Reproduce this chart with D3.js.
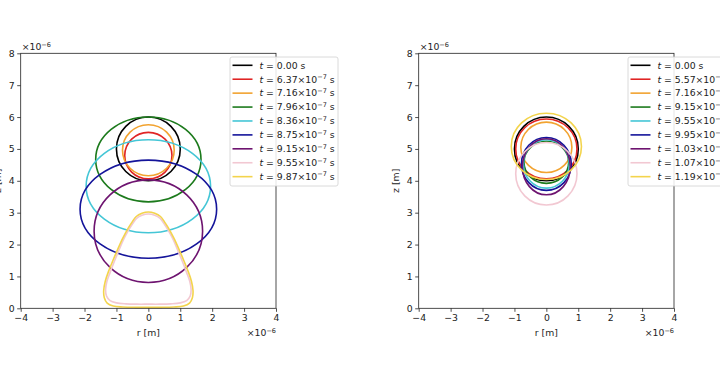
<!DOCTYPE html>
<html><head><meta charset="utf-8">
<script src="https://cdn.jsdelivr.net/npm/d3@7"></script>
<style>
body{margin:0;background:#fff;overflow:hidden;}
svg{display:block;}
text{font-family:"DejaVu Sans",sans-serif;fill:#222;}
</style>
</head><body>
<svg id="c" width="720" height="382"></svg>
<script>
// ---------- data ----------
const seriesColors = ["#000000","#e02424","#f2a330","#1c7a1c","#44c6d6","#14149a","#6e1470","#f2c8d2","#f3d44c"];
const xTicks = [-4,-3,-2,-1,0,1,2,3,4];
const yTicks = [0,1,2,3,4,5,6,7,8];

// left panel legend
const leftTimeMantissa = ["0.00","6.37","7.16","7.96","8.36","8.75","9.15","9.55","9.87"];
const leftTimeExponent = [null,-7,-7,-7,-7,-7,-7,-7,-7];
// left panel: elliptic bubble contours (series 0..6), units of 1e-6 m
const leftCenterZ = [5.00,4.79,4.96,4.67,3.83,3.11,2.42];
const leftRadiusR = [1.00,0.74,0.81,1.65,1.95,2.14,1.70];
const leftRadiusZ = [1.00,0.73,0.80,1.33,1.46,1.54,1.61];
// left panel: bell-shaped contours (series 7 and 8), half profile r>=0 from top to bottom
const pinkProfileR   = [0,0.20,0.37,0.49,0.62,0.78,0.93,1.07,1.20,1.30,1.34,1.31,1.20,1.00,0.70,0.35,0];
const pinkProfileZ   = [2.96,2.92,2.82,2.66,2.45,2.15,1.80,1.46,1.12,0.84,0.58,0.38,0.24,0.17,0.14,0.13,0.13];
const yellowProfileR = [0,0.20,0.38,0.50,0.64,0.80,0.96,1.11,1.25,1.35,1.40,1.38,1.29,1.10,0.80,0.40,0];
const yellowProfileZ = [3.02,2.98,2.88,2.72,2.50,2.20,1.85,1.50,1.15,0.85,0.55,0.33,0.16,0.07,0.04,0.03,0.03];

// right panel legend
const rightTimeMantissa = ["0.00","5.57","7.16","9.15","9.55","9.95","1.03","1.07","1.19"];
const rightTimeExponent = [null,-7,-7,-7,-7,-7,-6,-6,-6];
// right panel contours (all near-elliptic)
const rightCenterZ = [5.00,5.00,5.05,4.58,4.53,4.53,4.44,4.22,5.08];
const rightRadiusR = [1.00,0.96,0.80,0.70,0.72,0.78,0.75,0.96,1.10];
const rightRadiusZ = [1.00,0.94,0.79,0.66,0.76,0.83,0.88,0.98,1.04];

// ---------- drawing ----------
const svg = d3.select("#c");
const FS = 9.3;

function panel(left, opts){
  const top = 53.3, bottom = 308.3, right = left + 255.3;
  const x = d3.scaleLinear().domain([-4,4]).range([left,right]);
  const y = d3.scaleLinear().domain([0,8]).range([bottom,top]);
  const g = svg.append("g");

  // curves
  const curves = g.append("g").attr("fill","none").attr("stroke-width",1.6);
  opts.centerZ.forEach((cz,i)=>{
    curves.append("ellipse")
      .attr("cx",x(0)).attr("cy",y(cz))
      .attr("rx",x(opts.radiusR[i])-x(0))
      .attr("ry",y(0)-y(opts.radiusZ[i]))
      .attr("stroke",seriesColors[i]);
  });
  if (opts.profiles){
    const line = d3.line().x(d=>x(d[0])).y(d=>y(d[1])).curve(d3.curveCatmullRomClosed.alpha(0.5));
    opts.profiles.forEach(p=>{
      const half = p.r.map((r,k)=>[r,p.z[k]]);
      const mirrored = half.slice(1,-1).reverse().map(d=>[-d[0],d[1]]);
      curves.append("path").attr("d",line(half.concat(mirrored))).attr("stroke",seriesColors[p.idx]);
    });
  }

  // axes
  const xa = g.append("g").attr("transform",`translate(0,${bottom})`)
    .call(d3.axisBottom(x).tickValues(xTicks).tickSize(3.5).tickSizeOuter(0).tickPadding(2.5).tickFormat(d3.format("d")));
  const ya = g.append("g").attr("transform",`translate(${left},0)`)
    .call(d3.axisLeft(y).tickValues(yTicks).tickSize(3.5).tickSizeOuter(0).tickPadding(2.5).tickFormat(d3.format("d")));
  [xa,ya].forEach(a=>{
    a.select(".domain").remove();
    a.selectAll("line").attr("stroke","#222").attr("stroke-width",0.8);
    a.selectAll("text").attr("font-size",FS).attr("font-family","DejaVu Sans").attr("fill","#222");
  });
  g.append("rect").attr("x",left).attr("y",top).attr("width",right-left).attr("height",bottom-top)
    .attr("fill","none").attr("stroke","#222").attr("stroke-width",0.8);

  // axis labels
  g.append("text").attr("x",(left+right)/2).attr("y",336).attr("text-anchor","middle")
    .attr("font-size",FS).text("r [m]");
  g.append("text").attr("transform",`translate(${left-20},${(top+bottom)/2}) rotate(-90)`)
    .attr("text-anchor","middle").attr("font-size",FS).text("z [m]");

  // offset texts
  function offset(xp,yp,anchor){
    const t = g.append("text").attr("x",xp).attr("y",yp).attr("text-anchor",anchor).attr("font-size",FS);
    t.append("tspan").text("×10");
    t.append("tspan").attr("dy",-3.5).attr("font-size",FS*0.7).text("−6");
  }
  offset(left+1,50,"start");
  offset(right,336,"end");

  // legend
  const lx = opts.legendX, ly = 57, rowH = 13.92;
  g.append("rect").attr("x",lx).attr("y",ly).attr("width",opts.legendW).attr("height",129)
    .attr("rx",2).attr("fill","#fff").attr("fill-opacity",0.85).attr("stroke","#d0d0d0").attr("stroke-width",0.8);
  opts.mantissa.forEach((m,i)=>{
    const cy = ly + 8.3 + i*rowH;
    g.append("line").attr("x1",lx+2.5).attr("x2",lx+22.5).attr("y1",cy).attr("y2",cy)
      .attr("stroke",seriesColors[i]).attr("stroke-width",1.6);
    const t = g.append("text").attr("x",lx+29.5).attr("y",cy+3.3).attr("font-size",FS);
    t.append("tspan").attr("font-style","italic").text("t");
    if (opts.exponent[i]===null){
      t.append("tspan").text(" = " + m + " s");
    } else {
      t.append("tspan").text(" = " + m + "×10");
      t.append("tspan").attr("dy",-3.5).attr("font-size",FS*0.7).text("−" + Math.abs(opts.exponent[i]));
      t.append("tspan").attr("dy",3.5).text(" s");
    }
  });
}

panel(20.7,{
  centerZ:leftCenterZ, radiusR:leftRadiusR, radiusZ:leftRadiusZ,
  profiles:[{idx:7,r:pinkProfileR,z:pinkProfileZ},{idx:8,r:yellowProfileR,z:yellowProfileZ}],
  mantissa:leftTimeMantissa, exponent:leftTimeExponent, legendX:230, legendW:108
});
panel(418.7,{
  centerZ:rightCenterZ, radiusR:rightRadiusR, radiusZ:rightRadiusZ,
  mantissa:rightTimeMantissa, exponent:rightTimeExponent, legendX:628, legendW:120
});
</script>
</body></html>
